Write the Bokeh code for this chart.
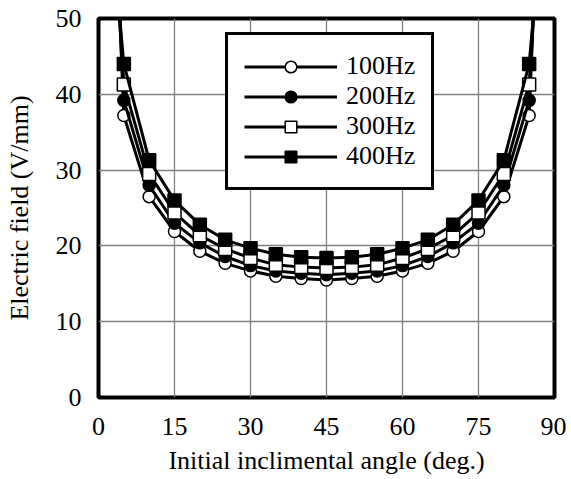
from bokeh.plotting import figure
from bokeh.models import Range1d, FixedTicker, Legend, LegendItem
from bokeh.embed import file_html
from bokeh.resources import INLINE

# Data
angles = [5, 10, 15, 20, 25, 30, 35, 40, 45, 50, 55, 60, 65, 70, 75, 80, 85]
end_angles = [4, 86]

e100 = [37.2, 26.5, 21.9, 19.3, 17.7, 16.7, 16.0, 15.7, 15.5, 15.7, 16.0, 16.7, 17.7, 19.3, 21.9, 26.5, 37.2]
e200 = [39.2, 28.0, 23.0, 20.4, 18.6, 17.4, 16.7, 16.4, 16.2, 16.4, 16.7, 17.4, 18.6, 20.4, 23.0, 28.0, 39.2]
e300 = [41.3, 29.5, 24.4, 21.4, 19.6, 18.4, 17.5, 17.2, 17.1, 17.2, 17.5, 18.4, 19.6, 21.4, 24.4, 29.5, 41.3]
e400 = [44.0, 31.3, 26.0, 22.8, 20.8, 19.7, 18.9, 18.5, 18.4, 18.5, 18.9, 19.7, 20.8, 22.8, 26.0, 31.3, 44.0]

# values of each curve at the steep ends (beyond the top of the axes)
end100 = [53.2, 53.2]
end200 = [52.7, 52.7]
end300 = [52.2, 52.2]
end400 = [51.5, 51.5]

labels = ["100Hz", "200Hz", "300Hz", "400Hz"]
x_ticks = [0, 15, 30, 45, 60, 75, 90]
y_ticks = [0, 10, 20, 30, 40, 50]
x_title = "Initial inclimental angle (deg.)"
y_title = "Electric field (V/mm)"

FONT = "Liberation Serif"

p = figure(width=566, height=479,
           x_range=Range1d(0, 90), y_range=Range1d(0, 50),
           output_backend="svg", toolbar_location=None,
           min_border_left=98, min_border_top=18,
           min_border_right=12, min_border_bottom=82)

p.background_fill_color = "white"
p.border_fill_color = "white"
p.outline_line_color = "black"
p.outline_line_width = 4
p.outline_line_alpha = 1

for ax in (p.xaxis[0], p.yaxis[0]):
    ax.axis_line_color = None
    ax.major_tick_line_color = None
    ax.minor_tick_line_color = None
    ax.major_tick_out = 0
    ax.major_tick_in = 0
    ax.major_label_text_font = FONT
    ax.major_label_text_font_size = "26px"
    ax.major_label_text_color = "black"
    ax.axis_label_text_font = FONT
    ax.axis_label_text_font_size = "26px"
    ax.axis_label_text_font_style = "normal"
    ax.axis_label_text_color = "black"

p.xaxis.ticker = FixedTicker(ticks=x_ticks)
p.yaxis.ticker = FixedTicker(ticks=y_ticks)
p.xaxis.axis_label = x_title
p.yaxis.axis_label = y_title
p.xaxis.major_label_standoff = 20
p.xaxis.axis_label_standoff = 8
p.yaxis.major_label_standoff = 17
p.yaxis.axis_label_standoff = 19

p.xgrid.grid_line_color = "#808080"
p.ygrid.grid_line_color = "#808080"
p.xgrid.grid_line_width = 1.3
p.ygrid.grid_line_width = 1.3

series = [
    (labels[0], e100, end100, "circle", "white", 12),
    (labels[1], e200, end200, "circle", "black", 12),
    (labels[2], e300, end300, "square", "white", 13),
    (labels[3], e400, end400, "square", "black", 13),
]

items = []
for lab, vals, ends, marker, fill, size in series:
    xs = [end_angles[0]] + angles + [end_angles[1]]
    ys = [ends[0]] + vals + [ends[1]]
    ln = p.line(xs, ys, line_width=3, line_color="black")
    sc = p.scatter(angles, vals, marker=marker, size=size,
                   fill_color=fill, line_color="black", line_width=1.5)
    items.append(LegendItem(label=lab, renderers=[ln, sc]))

legend = Legend(items=items, location=(127, 207))
legend.border_line_color = "black"
legend.border_line_width = 3
legend.border_line_alpha = 1
legend.background_fill_color = "white"
legend.background_fill_alpha = 1
legend.padding = 16
legend.spacing = 0
legend.margin = 0
legend.glyph_width = 93
legend.glyph_height = 29
legend.label_height = 29
legend.label_standoff = 9
legend.label_text_font = FONT
legend.label_text_font_size = "26px"
legend.label_text_line_height = 1.1
legend.label_text_color = "black"
p.add_layout(legend, "center")

open("out.html", "w").write(file_html(p, INLINE))
